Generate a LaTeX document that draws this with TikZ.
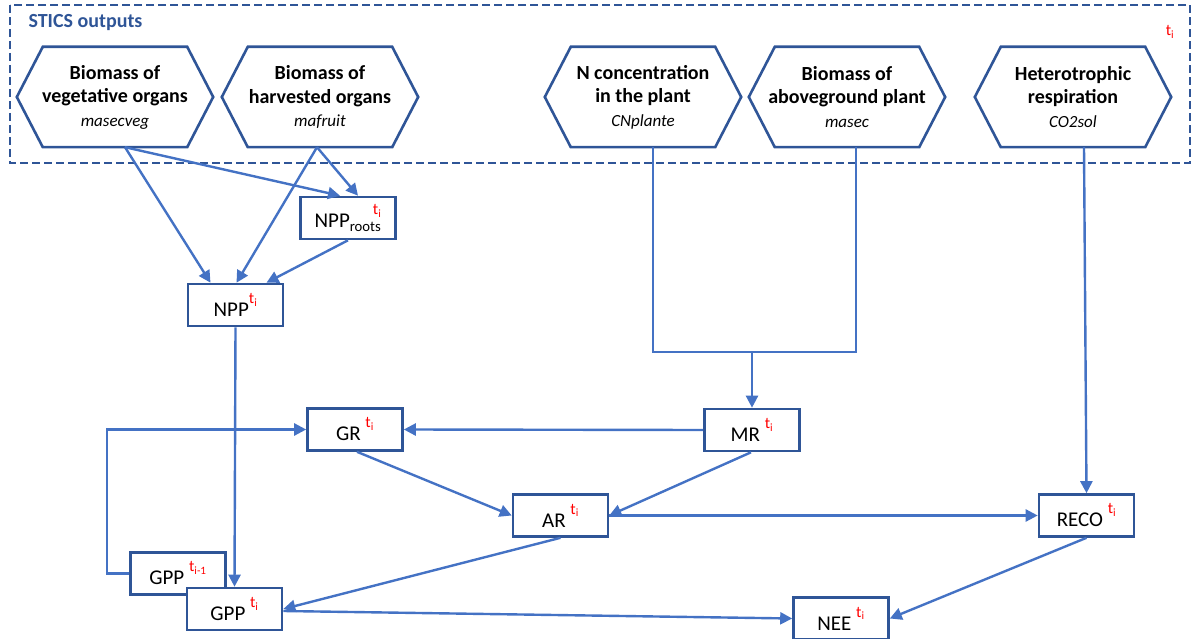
\documentclass[tikz,border=0pt]{standalone}
\usepackage{fontspec}
\setmainfont{Carlito}
\usetikzlibrary{arrows.meta}
\definecolor{boxblue}{RGB}{47,85,151}
\definecolor{lineblue}{RGB}{68,114,196}
\newcommand{\tix}[1][i]{\textcolor{red}{\raisebox{13pt}{\fontsize{16}{16}\selectfont t\textsubscript{#1}}}}
\newcommand{\varname}[1]{{\mdseries\itshape\fontsize{17}{24}\selectfont #1}}

\begin{document}
\begin{tikzpicture}[x=1pt,y=-1pt,
    hexa/.style={minimum width=196pt, minimum height=100pt, inner sep=0pt, align=center,
        font=\fontsize{20}{23.5}\selectfont\bfseries},
    hexline/.style={draw=boxblue, line width=2.6pt},
    varbox/.style={draw=boxblue, line width=2.6pt, fill=white, minimum width=95pt,
        minimum height=42pt, inner sep=0pt, font=\fontsize{21}{24}\selectfont},
    link/.style={draw=lineblue, line width=2.4pt},
    arr/.style={link, -{Triangle[length=12pt,width=12pt]}}]
    \useasboundingbox (0,0) rectangle (1195,639);

    % STICS outputs
    \draw[boxblue, line width=2.4pt, dash pattern=on 8pt off 4pt] (10,5) rectangle (1190,163);
    \node[anchor=west, text=boxblue, font=\fontsize{20}{22}\selectfont\bfseries] (stics) at (25,23) {STICS outputs};
    \node[font=\fontsize{16}{16}\selectfont] (tcorner) at (1170,32) {\textcolor{red}{t\textsubscript{i}}};

    \node[hexa] (hexveg) at (115,97) {Biomass of\\vegetative organs\\\varname{masecveg}};
    \node[hexa] (hexfruit) at (320,97) {Biomass of\\harvested organs\\\varname{mafruit}};
    \node[hexa] (hexcn) at (643,97) {N concentration\\in the plant\\\varname{CNplante}};
    \node[hexa] (hexmasec) at (847,97) {Biomass of\\aboveground plant\\\varname{masec}};
    \node[hexa] (hexco2) at (1073,97) {Heterotrophic\\respiration\\\varname{CO2sol}};
    \foreach \h in {hexveg,hexfruit,hexcn,hexmasec,hexco2}
        \draw[hexline] (\h.west) -- ([xshift=26pt]\h.north west) -- ([xshift=-26pt]\h.north east)
            -- (\h.east) -- ([xshift=-26pt]\h.south east) -- ([xshift=26pt]\h.south west) -- cycle;

    % fluxes
    \node[varbox] (npproots) at (348,218) {NPP\textsubscript{roots}\llap{\raisebox{0pt}{\tix}}};
    \node[varbox] (npp) at (235.5,305) {NPP\tix};
    \node[varbox] (gr) at (355,429.5) {GR \tix};
    \node[varbox] (mr) at (752,430) {MR \tix};
    \node[varbox] (ar) at (560.5,515.5) {AR \tix};
    \node[varbox] (reco) at (1086.5,515.5) {RECO \tix};
    \node[varbox] (gppold) at (178,573.5) {GPP \tix[i-1]};
    \node[varbox] (gpp) at (234.5,609) {GPP \tix};
    \node[varbox] (nee) at (841,618.5) {NEE \tix};

    \coordinate (mrjoin) at (752,352);
    \coordinate (loopc) at (107,429.5);

    \draw[arr] ([xshift=10pt]hexveg.south) -- ([xshift=-25pt]npp.north);
    \draw[arr] ([xshift=10pt]hexveg.south) -- ([xshift=-8pt]npproots.north);
    \draw[arr] ([xshift=-3pt]hexfruit.south) -- ([xshift=10pt]npproots.north);
    \draw[arr] ([xshift=-3pt]hexfruit.south) -- ([xshift=1pt]npp.north);
    \draw[arr] (npproots.south) -- ([xshift=31pt]npp.north);
    \draw[arr] (npp.south) -- (gpp.north);

    \draw[link] ([xshift=10pt]hexcn.south) |- (mrjoin) -| ([xshift=9pt]hexmasec.south);
    \draw[arr] (mrjoin) -- (mr.north);
    \draw[arr] ([xshift=11pt]hexco2.south) -- (reco.north);

    \draw[arr] (mr.west) -- (gr.east);
    \draw[arr] (gppold.west) -| (loopc) -- (gr.west);
    \draw[arr] ([xshift=2pt]gr.south) -- (ar.west);
    \draw[arr] ([xshift=-1pt]mr.south) -- (ar.east);
    \draw[arr] (ar.east) -- (reco.west);
    \draw[arr] (ar.south) -- (gpp.east);
    \draw[arr] ([yshift=-2pt]gpp.east) -- (nee.west);
    \draw[arr] (reco.south) -- (nee.east);
\end{tikzpicture}
\end{document}
